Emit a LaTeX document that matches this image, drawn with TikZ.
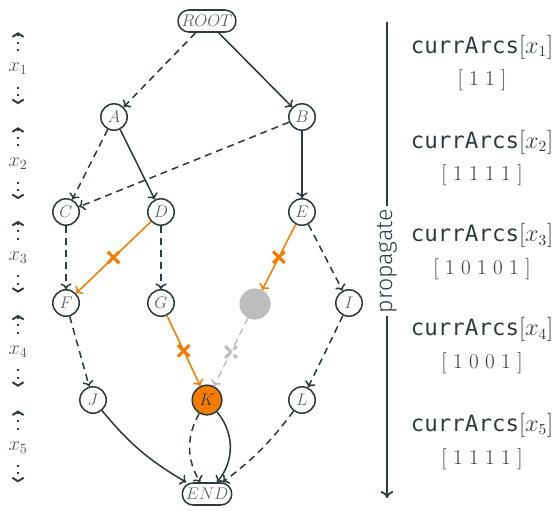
\documentclass[tikz,border=0pt]{standalone}
\usepackage{fontspec}
\usepackage{xcolor}
\usepackage{tikz}
\usetikzlibrary{arrows.meta, positioning, shapes.misc}

\newfontfamily\codefont{DejaVu Sans Mono}
\newfontfamily\labelfont{Fira Sans Light}

\definecolor{ink}{HTML}{2F3C3F}
\definecolor{cutorange}{HTML}{F57C00}
\definecolor{dead}{HTML}{BDBDBD}

\begin{document}
\begin{tikzpicture}[
  state/.style={circle, draw=ink, line width=1.1pt, minimum size=0.66cm, inner sep=0pt,
                font=\large, text=ink!80},
  term/.style={draw=ink, line width=1.1pt, rounded corners=0.27cm, minimum height=0.55cm,
               inner xsep=2.5pt, inner ysep=0pt, font=\large, text=ink!80},
  solidarc/.style={-{To[length=4pt,width=8pt]}, line width=1.1pt, draw=ink},
  dasharc/.style={solidarc, dash pattern=on 5pt off 3.5pt},
  cutarc/.style={solidarc, draw=cutorange},
  deadarc/.style={dasharc, draw=dead},
  xmark/.style={cross out, draw=cutorange, line width=2.2pt, minimum size=6pt, inner sep=0pt},
  layerlabel/.style={font=\Large, text=ink!85},
  dotarrow/.style={-{Straight Barb[length=2.5pt,width=8pt]}, line width=1.4pt, draw=ink,
                   dash pattern=on 1.4pt off 4pt},
  arcslabel/.style={font=\fontsize{16}{19}\selectfont, text=ink},
  bits/.style={font=\fontsize{15}{18}\selectfont, text=ink}
]
  \useasboundingbox (0,0) rectangle (14,-12.75);

  %--- Decision diagram ---
  \node[term]  (root) at (5.175, -0.525) {$ROOT$};

  \node[state] (a) at (2.85, -2.925) {$A$};
  \node[state] (b) at (7.55, -2.925) {$B$};

  \node[state] (c) at (1.65, -5.3) {$C$};
  \node[state] (d) at (4.025, -5.3) {$D$};
  \node[state] (e) at (7.55, -5.3) {$E$};

  \node[state] (f) at (1.65, -7.575) {$F$};
  \node[state] (g) at (4.025, -7.575) {$G$};
  \node[state, fill=dead, draw=dead, minimum size=0.74cm] (h) at (6.375, -7.6) {};
  \node[state] (i) at (8.725, -7.575) {$I$};

  \node[state] (j) at (2.325, -10.0) {$J$};
  \node[state, fill=cutorange, minimum size=0.74cm, text=ink] (k) at (5.175, -10.0) {$K$};
  \node[state] (l) at (7.55, -10.0) {$L$};

  \node[term]  (end) at (5.175, -12.35) {$END$};

  \draw[dasharc]  (root) -- (a);
  \draw[solidarc] (root) -- (b);
  \draw[dasharc]  (a) -- (c);
  \draw[solidarc] (a) -- (d);
  \draw[dasharc]  (b) -- (c);
  \draw[solidarc] (b) -- (e);

  \draw[dasharc]  (c) -- (f);
  \draw[cutarc]   (d) -- node[xmark] {} (f);
  \draw[dasharc]  (d) -- (g);
  \draw[cutarc]   (e) -- node[xmark] {} (h);
  \draw[dasharc]  (e) -- (i);

  \draw[dasharc]  (f) -- (j);
  \draw[cutarc]   (g) -- node[xmark] {} (k);
  \draw[deadarc]  (h) -- node[xmark, draw=dead] {} (k);
  \draw[dasharc]  (i) -- (l);

  \draw[solidarc] (j) to[bend right=10] (end);
  \draw[dasharc]  (k) to[bend right=30] (end);
  \draw[solidarc] (k) to[bend left=40] (end);
  \draw[dasharc]  (l) to[bend left=8] (end);

  %--- Layers and currArcs ---
  \foreach \i/\y/\bitstr in {1/-1.725/1 1, 2/-4.1/1 1 1 1, 3/-6.44/1 0 1 0 1,
                             4/-8.79/1 0 0 1, 5/-11.18/1 1 1 1} {
    \node[layerlabel] (x\i) at (0.45, \y) {$x_{\i}$};
    \coordinate (upfrom\i) at (0.45, \y+0.44);
    \coordinate (up\i) at (0.45, \y+0.92);
    \coordinate (dnfrom\i) at (0.45, \y-0.44);
    \coordinate (dn\i) at (0.45, \y-0.88);
    \draw[dotarrow] (upfrom\i) -- (up\i);
    \draw[dotarrow] (dnfrom\i) -- (dn\i);

    \node[arcslabel] (arcs\i) at (12.05, \y+0.55) {{\codefont currArcs}$[x_{\i}]$};
    \node[bits] (bits\i) at (12.05, \y-0.29) {[ \bitstr{} ]};
  }

  %--- Propagation direction ---
  \coordinate (ptop) at (9.675, -0.55);
  \coordinate (pbot) at (9.675, -12.45);
  \node[rotate=90, inner sep=2pt, font=\labelfont\fontsize{16.5}{19}\selectfont, text=ink]
    (prop) at (9.675, -6.53) {propagate};
  \draw[line width=1.3pt, ink] (ptop) -- (prop);
  \draw[line width=1.3pt, ink, -{To[length=5pt,width=9pt]}] (prop) -- (pbot);

\end{tikzpicture}
\end{document}
